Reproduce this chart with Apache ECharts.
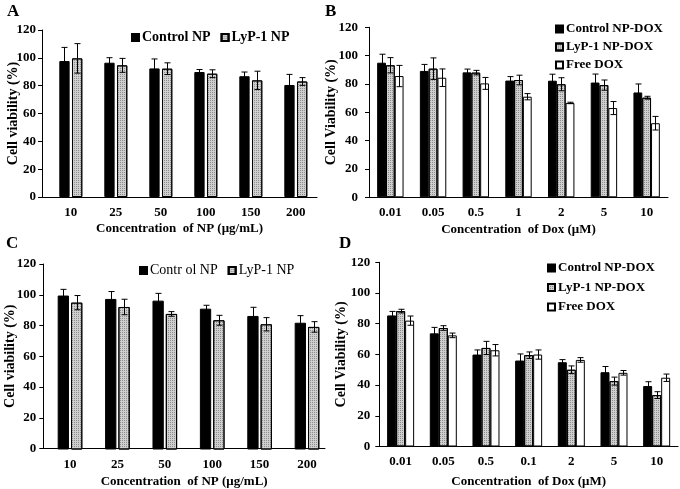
<!DOCTYPE html>
<html><head><meta charset="utf-8">
<script src="https://cdn.jsdelivr.net/npm/echarts@6/dist/echarts.min.js"></script>
<style>html,body{margin:0;padding:0;background:#fff}#c{width:680px;height:489px}</style>
</head><body><div id="c"></div>
<script>
// ---------- data ----------
const catsNP = ['10','25','50','100','150','200'];
const catsDoxB = ['0.01','0.05','0.5','1','2','5','10'];
const catsDoxD = ['0.01','0.05','0.5','0.1','2','5','10'];
const yTicks = [0,20,40,60,80,100,120];

// Panel A
const aControl = [97.7, 96.5, 92.4, 89.8, 86.8, 80.5];
const aControlErr = [9.8, 3.6, 6.8, 1.8, 3.0, 7.6];
const aLyp = [99.6, 94.6, 92.2, 88.6, 83.8, 83.0];
const aLypErr = [10.6, 5.0, 4.2, 2.8, 6.6, 2.8];

// Panel B
const bControl = [95.0, 89.2, 88.2, 82.4, 82.3, 81.0, 74.0];
const bControlErr = [6.0, 4.6, 2.3, 2.8, 4.6, 6.0, 6.0];
const bLyp = [93.2, 90.8, 88.0, 82.8, 79.8, 79.2, 70.3];
const bLypErr = [5.4, 7.6, 1.6, 3.4, 4.6, 3.6, 1.0];
const bFree = [85.6, 84.4, 80.4, 71.0, 66.6, 63.0, 52.3];
const bFreeErr = [7.5, 6.2, 4.2, 2.2, 0.5, 4.6, 4.8];

// Panel C
const cControl = [99.6, 97.4, 96.3, 91.1, 86.4, 82.0];
const cControlErr = [4.0, 4.8, 4.7, 2.2, 5.6, 4.6];
const cLyp = [95.0, 92.2, 87.7, 83.6, 81.0, 79.3];
const cLypErr = [4.6, 5.0, 1.5, 3.2, 4.3, 3.4];

// Panel D
const dControl = [85.4, 73.7, 59.9, 56.0, 54.9, 48.4, 39.4];
const dControlErr = [2.6, 3.9, 3.0, 4.3, 1.7, 3.7, 2.8];
const dLyp = [88.2, 77.2, 64.2, 59.5, 50.0, 42.6, 33.5];
const dLypErr = [1.2, 1.5, 4.3, 2.1, 2.5, 2.6, 2.2];
const dFree = [82.0, 72.4, 62.7, 59.9, 56.4, 48.0, 44.8];
const dFreeErr = [3.0, 1.5, 3.7, 3.0, 1.5, 1.5, 2.4];

// ---------- styles ----------
const FF = '"Liberation Serif","Times New Roman",serif';
const blackStyle = {color:'#000', borderColor:'#000', borderWidth:1};
const grayStyle = {color:'#cfcfcf', borderColor:'#000', borderWidth:1,
  decal:{symbol:'rect', symbolSize:1, color:'rgba(60,60,60,0.45)', dashArrayX:[1,1], dashArrayY:[1,1]}};
const whiteStyle = {color:'#fff', borderColor:'#000', borderWidth:1};

function barS(name, xi, yi, vals, style, bw, gap){
  return {type:'bar', name, xAxisIndex:xi, yAxisIndex:yi, data:vals, barWidth:bw, barGap:gap,
    itemStyle:style, emphasis:{disabled:true}, z:2};
}
function errS(xi, yi, vals, errs, dx){
  return {type:'custom', xAxisIndex:xi, yAxisIndex:yi, z:10, silent:true,
    encode:{x:0, y:1},
    data: vals.map((v,i)=>[i, v, errs[i]]),
    renderItem:(p, api)=>{
      const i=api.value(0), v=api.value(1), e=api.value(2);
      const t=api.coord([i, v+e]), b=api.coord([i, v-e]);
      const x=Math.round(t[0]+dx)+0.5, h=3;
      const st={stroke:'#000', lineWidth:1};
      return {type:'group', children:[
        {type:'line', shape:{x1:x,y1:t[1],x2:x,y2:b[1]}, style:st},
        {type:'line', shape:{x1:x-h,y1:t[1],x2:x+h,y2:t[1]}, style:st},
        {type:'line', shape:{x1:x-h,y1:b[1],x2:x+h,y2:b[1]}, style:st}
      ]};
    }};
}
function yAx(gi, show, name, nameGap, margin){
  return {gridIndex:gi, type:'value', min:0, max:120, interval:20, show:show,
    axisLine:{show:true, lineStyle:{color:'#000', width:1}},
    axisTick:{show:true, length:4, lineStyle:{color:'#000'}},
    splitLine:{show:false},
    axisLabel:{fontFamily:FF, fontWeight:'bold', fontSize:13, color:'#000', margin:margin},
    name:name, nameLocation:'middle', nameGap:nameGap, nameMoveOverlap:false,
    nameTextStyle:{fontFamily:FF, fontWeight:'bold', fontSize:14, color:'#000'}};
}
function xAx(gi, cats, opts){
  const o = {gridIndex:gi, type:'category', data:cats,
    axisLine:{show:opts.line, lineStyle:{color:'#000', width:1}},
    axisTick:{show:false},
    axisLabel:{show:opts.labels, fontFamily:FF, fontWeight:'bold', fontSize:13, color:'#000', margin:9},
    splitLine:{show:false}};
  if (opts.name){
    o.name = opts.name; o.nameLocation='middle'; o.nameGap=opts.nameGap; o.nameMoveOverlap=false;
    o.nameTextStyle={fontFamily:FF, fontWeight:'bold', fontSize:13, color:'#000'};
  }
  return o;
}
function legend(left, top, names, orient, fs, weight, gap){
  return {left, top, orient, padding:0, itemWidth:7, itemHeight:7, itemGap:gap, icon:'rect',
    selectedMode:false, data:names,
    textStyle:{fontFamily:FF, fontWeight:weight, fontSize:fs, color:'#000', lineHeight:fs+1, padding:[0,0,0,-2]}};
}
function letter(t, left, top){
  return {text:t, left, top, padding:0, textStyle:{fontFamily:FF, fontWeight:'bold', fontSize:17, color:'#000'}};
}

const chart = echarts.init(document.getElementById('c'), null, {renderer:'canvas'});
const option = {
  animation:false,
  backgroundColor:'#fff',
  title:[letter('A', 7, 3), letter('B', 325, 3), letter('C', 6, 235), letter('D', 339, 235)],
  grid:[
    {left:42, top:30, width:275, height:167},     // 0 A frame
    {left:48.3, top:30, width:270, height:167},   // 1 A bars
    {left:369, top:27.3, width:299, height:170},  // 2 B
    {left:43.3, top:264, width:281.7, height:185.5}, // 3 C frame
    {left:46.3, top:264, width:284.4, height:185.5}, // 4 C bars
    {left:379.3, top:262.3, width:298.7, height:185} // 5 D
  ],
  xAxis:[
    xAx(0, catsNP, {line:true, labels:false, name:'Concentration  of NP (μg/mL)', nameGap:25}),
    xAx(1, catsNP, {line:false, labels:true}),
    xAx(2, catsDoxB, {line:true, labels:true, name:'Concentration  of Dox (μM)', nameGap:25.5}),
    xAx(3, catsNP, {line:true, labels:false, name:'Concentration  of NP (μg/mL)', nameGap:26.5}),
    xAx(4, catsNP, {line:false, labels:true}),
    xAx(5, catsDoxD, {line:true, labels:true, name:'Concentration  of Dox (μM)', nameGap:28.5})
  ],
  yAxis:[
    yAx(0, true, 'Cell viability (%)', 22, 6),
    yAx(1, false, '', 0, 6),
    yAx(2, true, 'Cell Viability (%)', 31, 11),
    yAx(3, true, 'Cell viability (%)', 26.3, 7),
    yAx(4, false, '', 0, 6),
    yAx(5, true, 'Cell Viability (%)', 31.3, 9)
  ],
  legend:[
    legend(131, 30, ['Control NP','LyP-1 NP'], 'horizontal', 14, 'bold', 10),
    legend(555, 22, ['Control NP-DOX','LyP-1 NP-DOX','Free DOX'], 'vertical', 13, 'bold', 4),
    legend(139, 263, ['Contr ol NP','LyP-1 NP'], 'horizontal', 14, 'normal', 10),
    legend(547, 261, ['Control NP-DOX','LyP-1 NP-DOX','Free DOX'], 'vertical', 13, 'bold', 5.5)
  ],
  series:[
    barS('Control NP', 1, 1, aControl, blackStyle, 10.3, '23%'),
    barS('LyP-1 NP', 1, 1, aLyp, grayStyle, 10.3, '23%'),
    errS(1, 1, aControl, aControlErr, -6.35),
    errS(1, 1, aLyp, aLypErr, 6.35),

    barS('Control NP-DOX', 2, 2, bControl, blackStyle, 8.8, '0%'),
    barS('LyP-1 NP-DOX', 2, 2, bLyp, grayStyle, 8.8, '0%'),
    barS('Free DOX', 2, 2, bFree, whiteStyle, 8.8, '0%'),
    errS(2, 2, bControl, bControlErr, -8.8),
    errS(2, 2, bLyp, bLypErr, 0),
    errS(2, 2, bFree, bFreeErr, 8.8),

    barS('Contr ol NP', 4, 4, cControl, blackStyle, 11.3, '18%'),
    barS('LyP-1 NP', 4, 4, cLyp, grayStyle, 11.3, '18%'),
    errS(4, 4, cControl, cControlErr, -6.65),
    errS(4, 4, cLyp, cLypErr, 6.65),

    barS('Control NP-DOX', 5, 5, dControl, blackStyle, 9, '0%'),
    barS('LyP-1 NP-DOX', 5, 5, dLyp, grayStyle, 9, '0%'),
    barS('Free DOX', 5, 5, dFree, whiteStyle, 9, '0%'),
    errS(5, 5, dControl, dControlErr, -9),
    errS(5, 5, dLyp, dLypErr, 0),
    errS(5, 5, dFree, dFreeErr, 9)
  ]
};
chart.setOption(option);
</script></body></html>
